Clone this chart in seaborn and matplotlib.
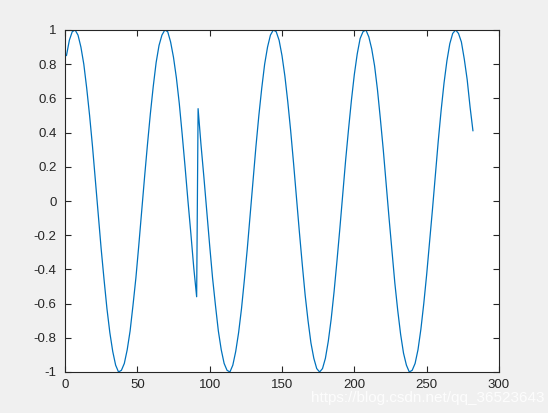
import pandas as pd
import matplotlib
matplotlib.use("Agg")
import matplotlib.pyplot as plt
import seaborn as sns

# first piece of the signal (samples 1..91, every 2nd)
x_first = [1, 3, 5, 7, 9, 11, 13, 15, 17, 19, 21, 23, 25, 27, 29, 31, 33, 35,
           37, 39, 41, 43, 45, 47, 49, 51, 53, 55, 57, 59, 61, 63, 65, 67, 69,
           71, 73, 75, 77, 79, 81, 83, 85, 87, 89, 91]
y_first = [0.85, 0.94, 0.99, 1.00, 0.97, 0.90, 0.80, 0.66, 0.50, 0.32, 0.12,
           -0.08, -0.28, -0.46, -0.63, -0.77, -0.88, -0.96, -1.00, -0.99,
           -0.95, -0.87, -0.76, -0.61, -0.45, -0.26, -0.06, 0.14, 0.33, 0.51,
           0.67, 0.81, 0.91, 0.97, 1.00, 0.99, 0.93, 0.84, 0.72, 0.57, 0.39,
           0.20, 0.00, -0.19, -0.39, -0.56]

# second piece (samples 92..282, every 2nd)
x_second = [92, 94, 96, 98, 100, 102, 104, 106, 108, 110, 112, 114, 116, 118,
            120, 122, 124, 126, 128, 130, 132, 134, 136, 138, 140, 142, 144,
            146, 148, 150, 152, 154, 156, 158, 160, 162, 164, 166, 168, 170,
            172, 174, 176, 178, 180, 182, 184, 186, 188, 190, 192, 194, 196,
            198, 200, 202, 204, 206, 208, 210, 212, 214, 216, 218, 220, 222,
            224, 226, 228, 230, 232, 234, 236, 238, 240, 242, 244, 246, 248,
            250, 252, 254, 256, 258, 260, 262, 264, 266, 268, 270, 272, 274,
            276, 278, 280, 282]
y_second = [0.54, 0.33, 0.14, -0.06, -0.26, -0.45, -0.61, -0.76, -0.87, -0.95,
            -0.99, -1.00, -0.96, -0.88, -0.77, -0.63, -0.46, -0.28, -0.08,
            0.12, 0.32, 0.50, 0.66, 0.80, 0.90, 0.97, 1.00, 0.99, 0.94, 0.85,
            0.73, 0.58, 0.41, 0.22, 0.02, -0.18, -0.37, -0.55, -0.70, -0.83,
            -0.92, -0.98, -1.00, -0.98, -0.92, -0.82, -0.69, -0.53, -0.35,
            -0.16, 0.04, 0.24, 0.42, 0.59, 0.74, 0.86, 0.95, 0.99, 1.00, 0.96,
            0.89, 0.79, 0.65, 0.48, 0.30, 0.10, -0.10, -0.29, -0.48, -0.64,
            -0.78, -0.89, -0.96, -1.00, -0.99, -0.95, -0.87, -0.75, -0.60,
            -0.43, -0.24, -0.05, 0.15, 0.35, 0.53, 0.69, 0.82, 0.92, 0.98,
            1.00, 0.98, 0.93, 0.83, 0.71, 0.55, 0.41]

x_ticks = [0, 50, 100, 150, 200, 250, 300]
y_ticks = [-1, -0.8, -0.6, -0.4, -0.2, 0, 0.2, 0.4, 0.6, 0.8, 1]
y_tick_labels = ["-1", "-0.8", "-0.6", "-0.4", "-0.2", "0", "0.2", "0.4",
                 "0.6", "0.8", "1"]

df = pd.DataFrame({"x": x_first + x_second, "y": y_first + y_second})

sns.set_style("ticks")
plt.rcParams['font.family'] = ['Liberation Sans', 'DejaVu Sans']

fig = plt.figure(figsize=(5.48, 4.13), dpi=100, facecolor="#f0f0f0")
ax = fig.add_axes([65 / 548, 41 / 413, 434 / 548, 342 / 413])
ax.set_facecolor("white")

sns.lineplot(data=df, x="x", y="y", ax=ax, color="#0072bd", linewidth=0.9,
             estimator=None, sort=False)

ax.set_xlim(0, 300)
ax.set_ylim(-1, 1)
ax.set_xticks(x_ticks)
ax.set_xticklabels([str(t) for t in x_ticks])
ax.set_yticks(y_ticks)
ax.set_yticklabels(y_tick_labels)
ax.set_xlabel("")
ax.set_ylabel("")

for side in ["top", "right", "bottom", "left"]:
    ax.spines[side].set_visible(True)
    ax.spines[side].set_color("#262626")
    ax.spines[side].set_linewidth(0.8)

ax.tick_params(direction="in", length=4.5, width=0.8, colors="#262626",
               labelsize=9.5, top=True, right=True, labelcolor="#262626")
ax.tick_params(axis="x", pad=5)
ax.tick_params(axis="y", pad=6)

# csdn watermark in the corner, below the tick labels
fig.text(0.994, 0.036, "https://blog.csdn.net/qq_36523643", ha="right",
         va="center", fontsize=11, color="white", alpha=0.85)

fig.savefig("out.png", dpi=100, facecolor=fig.get_facecolor())
